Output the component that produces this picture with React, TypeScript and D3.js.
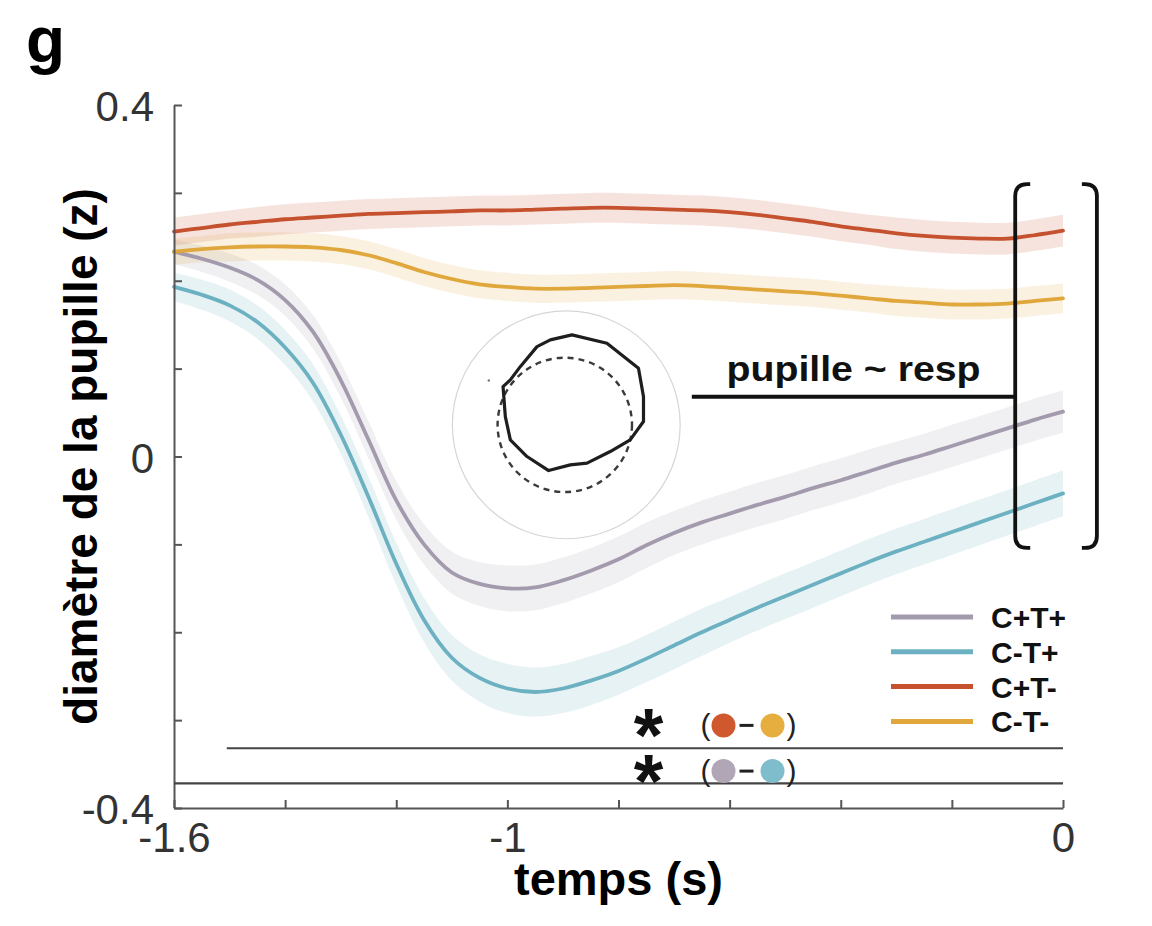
import { useEffect, useRef } from 'react'
import * as d3 from 'd3'

// time (s) relative to response
const time = [
  -1.6, -1.55, -1.5, -1.45, -1.4, -1.35, -1.3, -1.25, -1.2, -1.15, -1.1,
  -1.05, -1.0, -0.95, -0.9, -0.85, -0.8, -0.75, -0.7, -0.65, -0.6, -0.55,
  -0.5, -0.45, -0.4, -0.35, -0.3, -0.25, -0.2, -0.15, -0.1, -0.05, 0,
]

// pupil diameter (z)
const cPlusTPlus = [
  0.233, 0.225, 0.215, 0.201, 0.178, 0.142, 0.087, 0.019, -0.05, -0.1, -0.132,
  -0.145, -0.15, -0.149, -0.141, -0.13, -0.117, -0.101, -0.087, -0.075, -0.065, -0.055,
  -0.046, -0.036, -0.027, -0.017, -0.007, 0.002, 0.012, 0.022, 0.032, 0.042, 0.051,
]
const cMinusTPlus = [
  0.193, 0.184, 0.172, 0.153, 0.124, 0.084, 0.025, -0.046, -0.122, -0.186, -0.229,
  -0.252, -0.264, -0.268, -0.264, -0.255, -0.244, -0.23, -0.215, -0.2, -0.186, -0.172,
  -0.159, -0.146, -0.133, -0.12, -0.108, -0.097, -0.086, -0.075, -0.064, -0.053, -0.042,
]
const cPlusTMinus = [
  0.256, 0.26, 0.264, 0.267, 0.27, 0.272, 0.274, 0.276, 0.277, 0.278, 0.279,
  0.28, 0.28, 0.281, 0.282, 0.283, 0.283, 0.282, 0.281, 0.28, 0.278, 0.275,
  0.271, 0.267, 0.262, 0.258, 0.254, 0.251, 0.249, 0.248, 0.248, 0.252, 0.257,
]
const cMinusTMinus = [
  0.233, 0.236, 0.238, 0.239, 0.239, 0.238, 0.235, 0.229, 0.22, 0.21, 0.202,
  0.196, 0.193, 0.191, 0.191, 0.192, 0.193, 0.194, 0.195, 0.194, 0.192, 0.19,
  0.188, 0.186, 0.183, 0.18, 0.177, 0.175, 0.173, 0.173, 0.174, 0.177, 0.18,
]

// half width of the shaded error bands
const semCPlusTPlus = [
  0.014, 0.015, 0.016, 0.017, 0.018, 0.019, 0.02, 0.021, 0.022, 0.023, 0.024,
  0.025, 0.026, 0.026, 0.026, 0.026, 0.026, 0.026, 0.025, 0.025, 0.025, 0.025,
  0.025, 0.025, 0.025, 0.025, 0.024, 0.024, 0.024, 0.024, 0.024, 0.024, 0.024,
]
const semCMinusTPlus = [
  0.016, 0.017, 0.018, 0.019, 0.02, 0.021, 0.022, 0.023, 0.024, 0.025, 0.026,
  0.027, 0.028, 0.028, 0.028, 0.028, 0.027, 0.027, 0.027, 0.027, 0.026, 0.026,
  0.026, 0.026, 0.026, 0.026, 0.026, 0.026, 0.026, 0.026, 0.026, 0.026, 0.026,
]
const semCPlusTMinus = [
  0.016, 0.016, 0.016, 0.017, 0.017, 0.017, 0.017, 0.017, 0.017, 0.017, 0.017,
  0.017, 0.017, 0.017, 0.017, 0.017, 0.017, 0.017, 0.017, 0.017, 0.017, 0.017,
  0.017, 0.017, 0.017, 0.017, 0.018, 0.018, 0.018, 0.018, 0.018, 0.018, 0.018,
]
const semCMinusTMinus = [
  0.015, 0.015, 0.016, 0.016, 0.016, 0.016, 0.016, 0.016, 0.016, 0.016, 0.016,
  0.016, 0.016, 0.016, 0.016, 0.016, 0.016, 0.016, 0.016, 0.016, 0.016, 0.016,
  0.016, 0.016, 0.016, 0.016, 0.017, 0.017, 0.017, 0.017, 0.017, 0.017, 0.017,
]

const seriesNames = ['C+T+', 'C-T+', 'C+T-', 'C-T-']
const seriesValues = [cPlusTPlus, cMinusTPlus, cPlusTMinus, cMinusTMinus]
const seriesSem = [semCPlusTPlus, semCMinusTPlus, semCPlusTMinus, semCMinusTMinus]
const lineColors = ['#a39bad', '#6cb1c1', '#c5512f', '#e0a83c']
const dotColors = ['#b0a6b6', '#7fbdcc', '#d0582e', '#e6ae3e']

const xTicks = [-1.6, -1.4, -1.2, -1.0, -0.8, -0.6, -0.4, -0.2, 0]
const xTickLabels = [-1.6, -1, 0]
const yTicks = [-0.4, -0.3, -0.2, -0.1, 0, 0.1, 0.2, 0.3, 0.4]
const yTickLabels = [-0.4, 0, 0.4]

// significance bars, the level of their marks, and the compared pair
const sigStart = [-1.505, -1.6]
const sigEnd = [0, 0]
const sigLevel = [-0.332, -0.372]
const sigMarkLevel = [-0.306, -0.358]
const sigMarkTime = -0.746
const sigPairs = [[2, 3], [0, 1]]

// bracketed model annotation
const bracketTop = 0.31
const bracketBottom = -0.104
const bracketLeft = -0.086
const bracketRight = 0.061
const modelLineStart = -0.668
const modelLineLevel = 0.068

// pupil inset (centre in data units, outline as fractions of outer radius)
const insetCenter = [-0.894, 0.036]
const insetRadius = 0.205
const dashedRadius = 0.59
const pupilOutline: [number, number][] = [
  [0.05, -0.79], [0.357, -0.717], [0.634, -0.497], [0.678, -0.248], [0.678, -0.029],
  [0.561, 0.132], [0.386, 0.234], [0.182, 0.336], [0.035, 0.351], [-0.155, 0.401],
  [-0.345, 0.278], [-0.491, 0.132], [-0.535, -0.073], [-0.555, -0.336], [-0.491, -0.395],
  [-0.404, -0.511], [-0.257, -0.687], [-0.14, -0.746],
]

const FONT = '"Liberation Sans", Arial, Helvetica, sans-serif'

const isIn = (list: number[], d: number) => list.some(v => Math.abs(v - d) < 1e-9)

export default function App() {
  const svgRef = useRef<SVGSVGElement>(null)

  useEffect(() => {
    if (!svgRef.current) return
    const svg = d3.select(svgRef.current)
    svg.selectAll('*').remove()

    const x = d3.scaleLinear().domain([-1.6, 0]).range([174, 1063])
    const y = d3.scaleLinear().domain([-0.4, 0.4]).range([808, 105])

    svg.append('rect').attr('width', 1152).attr('height', 926).attr('fill', '#fff')

    const g = svg.append('g')

    // error bands
    seriesValues.forEach((vals, i) => {
      const sem = seriesSem[i]
      const area = d3.area<number>()
        .x((_, j) => x(time[j]))
        .y0((d, j) => y(d - sem[j]))
        .y1((d, j) => y(d + sem[j]))
        .curve(d3.curveCatmullRom.alpha(0.5))
      g.append('path')
        .attr('d', area(vals))
        .attr('fill', lineColors[i])
        .attr('opacity', 0.16)
    })

    // pupil inset
    const cx = x(insetCenter[0])
    const cy = y(insetCenter[1])
    const R = x(insetCenter[0] + insetRadius) - cx
    const inset = g.append('g')
    inset.append('circle')
      .attr('cx', cx).attr('cy', cy).attr('r', R)
      .attr('fill', '#fff').attr('fill-opacity', 0.85)
      .attr('stroke', '#d6d6d6').attr('stroke-width', 1.2)
    inset.append('circle')
      .attr('cx', cx - 0.013 * R).attr('cy', cy).attr('r', dashedRadius * R)
      .attr('fill', 'none')
      .attr('stroke', '#3a3a3a').attr('stroke-width', 2.4)
      .attr('stroke-dasharray', '6,5')
    inset.append('path')
      .attr('d', d3.line<[number, number]>()
        .x(d => cx + d[0] * R)
        .y(d => cy + d[1] * R)
        .curve(d3.curveLinearClosed)(pupilOutline))
      .attr('fill', 'none')
      .attr('stroke', '#1e1e1e').attr('stroke-width', 3.2)
      .attr('stroke-linejoin', 'round')
    inset.append('circle')
      .attr('cx', cx - 0.68 * R).attr('cy', cy - 0.39 * R).attr('r', 1.2)
      .attr('fill', '#777')

    // mean lines
    seriesValues.forEach((vals, i) => {
      const line = d3.line<number>()
        .x((_, j) => x(time[j]))
        .y(d => y(d))
        .curve(d3.curveCatmullRom.alpha(0.5))
      g.append('path')
        .attr('d', line(vals))
        .attr('fill', 'none')
        .attr('stroke', lineColors[i])
        .attr('stroke-width', 3.8)
        .attr('stroke-linecap', 'round')
    })

    // axes
    const yAxis = d3.axisLeft(y)
      .tickValues(yTicks)
      .tickSize(-8)
      .tickSizeOuter(0)
      .tickPadding(20)
      .tickFormat(d => (isIn(yTickLabels, d as number) ? String(d) : ''))
    const xAxis = d3.axisBottom(x)
      .tickValues(xTicks)
      .tickSize(-8)
      .tickSizeOuter(0)
      .tickPadding(14)
      .tickFormat(d => (isIn(xTickLabels, d as number) ? String(d) : ''))

    const styleAxis = (sel: d3.Selection<SVGGElement, unknown, null, undefined>) => {
      sel.select('.domain').attr('stroke', '#555').attr('stroke-width', 2)
      sel.selectAll('.tick line').attr('stroke', '#555').attr('stroke-width', 2)
      sel.selectAll('.tick text')
        .attr('fill', '#333')
        .style('font-family', FONT)
        .style('font-size', '42px')
    }

    const yG = svg.append('g')
      .attr('transform', `translate(${x(-1.6)},0)`)
      .call(yAxis)
      .call(styleAxis)
    yG.selectAll('.tick text').attr('dy', '0.38em')
    svg.append('g')
      .attr('transform', `translate(0,${y(-0.4)})`)
      .call(xAxis)
      .call(styleAxis)

    // significance bars
    sigLevel.forEach((lvl, i) => {
      svg.append('line')
        .attr('x1', x(sigStart[i])).attr('x2', x(sigEnd[i]))
        .attr('y1', y(lvl)).attr('y2', y(lvl))
        .attr('stroke', '#444').attr('stroke-width', 2.2)

      const sy = y(sigMarkLevel[i])
      const sx = x(sigMarkTime)
      svg.append('text')
        .attr('x', sx).attr('y', sy + 36)
        .attr('text-anchor', 'middle')
        .style('font-family', FONT).style('font-weight', 'bold').style('font-size', '76px')
        .attr('fill', '#111')
        .text('*')
      const [a, b] = sigPairs[i]
      svg.append('text')
        .attr('x', sx + 57).attr('y', sy + 10)
        .attr('text-anchor', 'middle')
        .style('font-family', FONT).style('font-size', '30px')
        .attr('fill', '#222')
        .text('(')
      svg.append('circle').attr('cx', sx + 75).attr('cy', sy).attr('r', 12).attr('fill', dotColors[a])
      svg.append('line')
        .attr('x1', sx + 91).attr('x2', sx + 105)
        .attr('y1', sy).attr('y2', sy)
        .attr('stroke', '#222').attr('stroke-width', 3)
      svg.append('circle').attr('cx', sx + 124).attr('cy', sy).attr('r', 12).attr('fill', dotColors[b])
      svg.append('text')
        .attr('x', sx + 143).attr('y', sy + 10)
        .attr('text-anchor', 'middle')
        .style('font-family', FONT).style('font-size', '30px')
        .attr('fill', '#222')
        .text(')')
    })

    // bracket and model annotation
    const bl = x(bracketLeft)
    const br = x(bracketRight)
    const bt = y(bracketTop)
    const bb = y(bracketBottom)
    const r = 12
    const stub = 15
    svg.append('path')
      .attr('d', `M${bl + stub},${bt} L${bl + r},${bt} Q${bl},${bt} ${bl},${bt + r} L${bl},${bb - r} Q${bl},${bb} ${bl + r},${bb} L${bl + stub},${bb}`)
      .attr('fill', 'none').attr('stroke', '#111').attr('stroke-width', 3.8)
    svg.append('path')
      .attr('d', `M${br - stub},${bt} L${br - r},${bt} Q${br},${bt} ${br},${bt + r} L${br},${bb - r} Q${br},${bb} ${br - r},${bb} L${br - stub},${bb}`)
      .attr('fill', 'none').attr('stroke', '#111').attr('stroke-width', 3.8)
    svg.append('line')
      .attr('x1', x(modelLineStart)).attr('x2', bl)
      .attr('y1', y(modelLineLevel)).attr('y2', y(modelLineLevel))
      .attr('stroke', '#111').attr('stroke-width', 4)
    svg.append('text')
      .attr('x', (x(modelLineStart) + bl) / 2)
      .attr('y', y(modelLineLevel) - 16)
      .attr('text-anchor', 'middle')
      .attr('textLength', 254)
      .attr('lengthAdjust', 'spacingAndGlyphs')
      .style('font-family', FONT).style('font-weight', 'bold').style('font-size', '35px')
      .attr('fill', '#111')
      .text('pupille ~ resp')

    // legend
    const legend = svg.append('g').attr('transform', 'translate(891,617)')
    seriesNames.forEach((name, i) => {
      const row = legend.append('g').attr('transform', `translate(0,${i * 34.8})`)
      row.append('line')
        .attr('x1', 0).attr('x2', 82).attr('y1', 0).attr('y2', 0)
        .attr('stroke', lineColors[i]).attr('stroke-width', 5)
      row.append('text')
        .attr('x', 100).attr('y', 11)
        .style('font-family', FONT).style('font-weight', 'bold').style('font-size', '30px')
        .attr('fill', '#111')
        .text(name)
    })

    // axis titles
    svg.append('text')
      .attr('x', x(-0.8)).attr('y', 895)
      .attr('text-anchor', 'middle')
      .style('font-family', FONT).style('font-weight', 'bold').style('font-size', '47px')
      .attr('fill', '#000')
      .text('temps (s)')
    svg.append('text')
      .attr('transform', `translate(97,${y(0)}) rotate(-90)`)
      .attr('text-anchor', 'middle')
      .style('font-family', FONT).style('font-weight', 'bold').style('font-size', '46px')
      .attr('fill', '#000')
      .text('diamètre de la pupille (z)')

    // panel letter
    svg.append('text')
      .attr('x', 26).attr('y', 62)
      .style('font-family', FONT).style('font-weight', 'bold').style('font-size', '64px')
      .attr('fill', '#000')
      .text('g')
  }, [])

  return (
    <svg
      ref={svgRef}
      width={1152}
      height={926}
      style={{ position: 'absolute', left: 0, top: 0, background: '#fff' }}
    />
  )
}
